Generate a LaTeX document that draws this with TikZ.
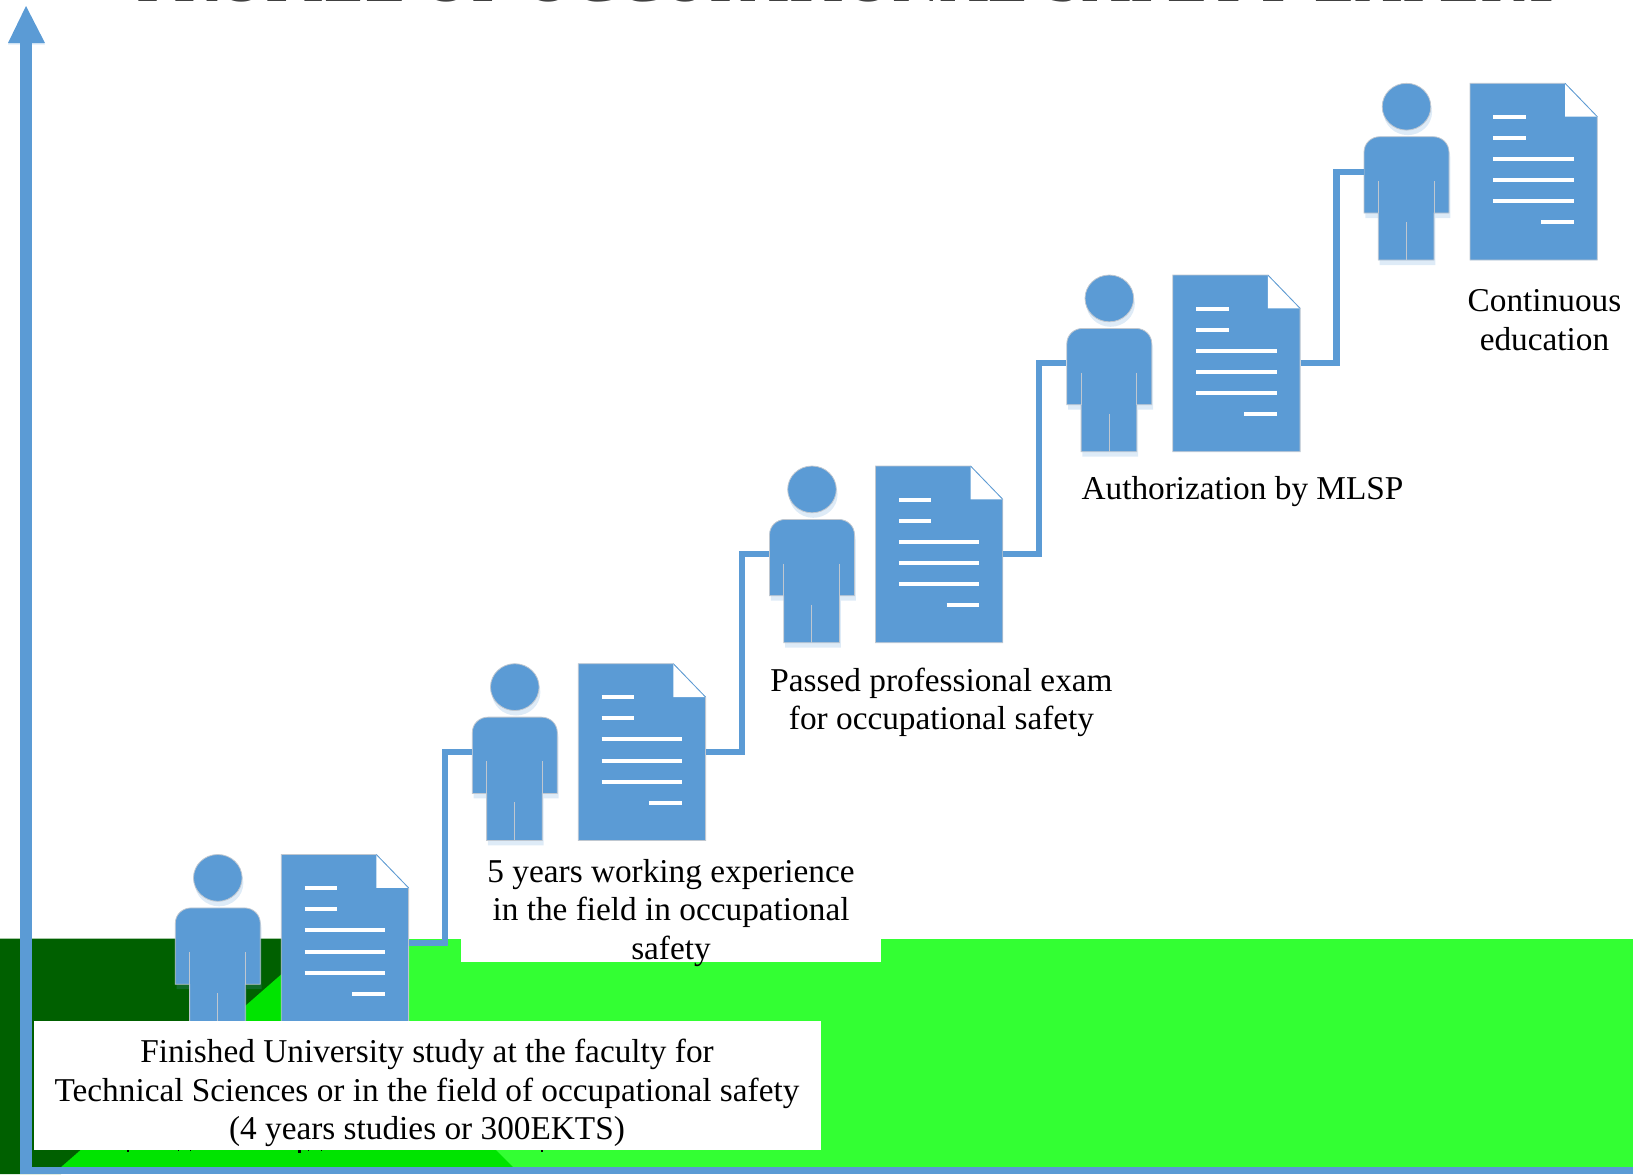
\documentclass[tikz,border=0pt]{standalone}
\usepackage{fontspec}
\setmainfont{Liberation Serif}
\definecolor{axisblue}{HTML}{5B9BD5}
\definecolor{lightgreen}{HTML}{33FF33}
\definecolor{midgreen}{HTML}{00E400}
\definecolor{darkgreen}{HTML}{006000}
\definecolor{edgegray}{HTML}{BFC7D0}
\tikzset{
  x=0.5pt,y=-0.5pt,
  iconfill/.style={fill=axisblue,draw=edgegray,line width=0.4pt},
  iconshadow/.style={fill=axisblue,opacity=0.2},
  iconline/.style={draw=edgegray,line width=0.4pt},
  textline/.style={draw=white,line width=2pt},
  connector/.style={draw=axisblue,line width=3.1pt,line join=miter},
  axisline/.style={draw=axisblue},
  anchorbox/.style={inner sep=0pt,minimum width=63.65pt,minimum height=88.35pt},
  personbox/.style={inner sep=0pt,minimum width=42.5pt,minimum height=88.35pt},
  lbl/.style={inner sep=0pt,align=center,font=\fontsize{16.65}{19.2}\selectfont,text=black},
  whitebox/.style={fill=white,draw=none},
}
\newcommand{\bodypath}{(-106,129.7) -- (-106,69) .. controls (-106,60) and (-99,53.4) .. (-90,53.4) -- (-37,53.4) .. controls (-28,53.4) and (-21,60) .. (-21,69) -- (-21,129.7) -- (-36,129.7) -- (-36,176.7) -- (-91.7,176.7) -- (-91.7,129.7) -- cycle}
\newcommand{\stepgroup}[3]{%
\begin{scope}[shift={(#2,#3)}]
  % person
  \node[personbox] (person#1) at (-63.5,88.35) {};
  \fill[iconshadow] (-62.2,28.4) ellipse [x radius=12.15pt,y radius=11.7pt];
  \begin{scope}[shift={(1.3,5)}]
    \fill[iconshadow] \bodypath;
  \end{scope}
  \filldraw[iconfill] (-63.5,23.4) ellipse [x radius=12.15pt,y radius=11.7pt];
  \filldraw[iconfill] \bodypath;
  \draw[iconline] (-91.7,97.7) -- (-91.7,129.7);
  \draw[iconline] (-36,97.7) -- (-36,129.7);
  \draw[iconline] (-63.7,138.7) -- (-63.7,176.7);
  % document
  \node[anchorbox] (doc#1) at (63.65,88.35) {};
  \filldraw[iconfill] (0,0) -- (95,0) -- (127.3,33.4) -- (127.3,176.7) -- (0,176.7) -- cycle;
  \fill[white] (95,0) -- (127.3,33.4) -- (95,33.4) -- cycle;
  \draw[axisblue,line width=0.4pt] (95,0) -- (127.3,33.4);
  \draw[textline] (23.3,33.7) -- (55.7,33.7);
  \draw[textline] (23.3,54.7) -- (55.7,54.7);
  \draw[textline] (23.3,75.7) -- (103.7,75.7);
  \draw[textline] (23.3,97) -- (103.7,97);
  \draw[textline] (23.3,118) -- (103.7,118);
  \draw[textline] (71,139) -- (103.7,139);
\end{scope}}
\begin{document}
\begin{tikzpicture}
\useasboundingbox (0,0) rectangle (1633,1174);
\clip (0,0) rectangle (1633,1174);
% ground
\fill[lightgreen] (0,938.5) rectangle (1633,1174);
\fill[midgreen] (301,955) -- (61,1167) -- (513,1167) -- cycle;
\fill[darkgreen] (0,938.5) -- (322,938.5) -- (61,1167) -- (61,1174) -- (0,1174) -- cycle;
% title
\node[inner sep=0pt,anchor=base,font=\fontsize{33.3}{33.3}\selectfont,text=black!75] (title) at (849,1.5) {PROFILE OF OCCUPATIONAL SAFETY EXPERT};
% axes
\coordinate (axisorigin) at (26,1170.5);
\coordinate (axistop) at (26,43);
\coordinate (axisright) at (1633,1170.5);
\draw[axisline,line width=6pt] (axisorigin) -- (axistop);
\draw[axisline,line width=3.5pt] (20,1170.5) -- (axisright);
\fill[iconshadow] (26,7.5) -- (45,44.5) -- (8,44.5) -- cycle;
\fill[axisblue] (26,6) -- (45,43) -- (8,43) -- cycle;
% steps
\stepgroup{1}{281.3}{854.5}
\stepgroup{2}{578.3}{663.7}
\stepgroup{3}{875.5}{466}
\stepgroup{4}{1172.8}{275}
\stepgroup{5}{1470}{83.3}
% connectors
\draw[connector] (doc1.east) -- ++(36,0) |- (person2.west);
\draw[connector] (doc2.east) -- ++(36,0) |- (person3.west);
\draw[connector] (doc3.east) -- ++(36,0) |- (person4.west);
\draw[connector] (doc4.east) -- ++(36,0) |- (person5.west);
% white label backgrounds
\fill[whitebox] (34,1021) rectangle (820.7,1150);
\fill[whitebox] (461,846) rectangle (881,961.7);
% residue of covered text
\fill[black] (127,1150) rectangle (129,1151.5);
\fill[black] (178,1150) rectangle (179,1151);
\fill[black] (190,1150) rectangle (191,1151);
\fill[black] (298,1150) rectangle (300.5,1153);
\fill[black] (308,1150) rectangle (309,1151);
\fill[black] (321,1150) rectangle (322,1151);
\fill[black] (541,1150) rectangle (543,1151.5);
% labels
\node[lbl] (l1) at (427,1093) {Finished University study at the faculty for\\Technical Sciences or in the field of occupational safety\\(4 years studies or 300EKTS)};
\node[lbl] (l2) at (671,913) {5 years working experience\\in the field in occupational\\safety};
\node[lbl] (l3) at (941.5,702.5) {Passed professional exam\\for occupational safety};
\node[lbl] (l4) at (1242.5,492) {Authorization by MLSP};
\node[lbl] (l5) at (1544.5,320) {Continuous\\education};
\end{tikzpicture}
\end{document}
